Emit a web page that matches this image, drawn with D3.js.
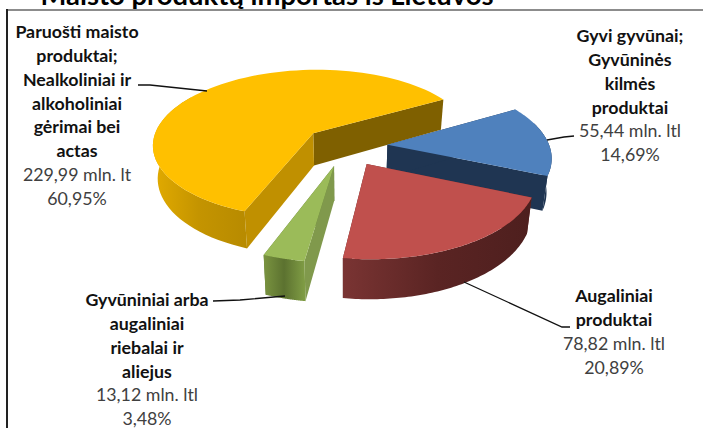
<!DOCTYPE html>
<html><head><meta charset="utf-8">
<script src="https://cdn.jsdelivr.net/npm/d3@7"></script>
<style>html,body{margin:0;padding:0;background:#fff}svg{display:block}</style>
</head><body><div id="c"></div>
<script>
const title = "Maisto produktų importas iš Lietuvos";
const categories = ["Gyvi gyvūnai; Gyvūninės kilmės produktai","Augaliniai produktai","Gyvūniniai arba augaliniai riebalai ir aliejus","Paruošti maisto produktai; Nealkoliniai ir alkoholiniai gėrimai bei actas"];
const values = [55.44,78.82,13.12,229.99];
const valueLabels = ["55,44 mln. ltl","78,82 mln. ltl","13,12 mln. ltl","229,99 mln. lt"];
const percentLabels = ["14,69%","20,89%","3,48%","60,95%"];
const nameLines = [
  ["Gyvi gyvūnai;","Gyvūninės","kilmės","produktai"],
  ["Augaliniai","produktai"],
  ["Gyvūniniai arba","augaliniai","riebalai ir","aliejus"],
  ["Paruošti maisto","produktai;","Nealkoliniai ir","alkoholiniai","gėrimai bei","actas"]
];
const W=703,H=428;
const svg=d3.select("#c").append("svg").attr("width",W).attr("height",H);
const FONT="Lato, 'Open Sans', sans-serif";

// 3D pie projection
const cx=345,cy=146,A=170.5,B=80,persp=0.15,R=0.95,explode=0.25,depth=33,converge=0.975;
const project=(x,z,drop)=>{const s=1/(1-persp*z);return [cx+A*x*s*(drop?converge:1), cy+B*z*s+(drop?depth*s:0)];};
const pie=d3.pie().sort(null).value(d=>d).startAngle(Math.PI/3).endAngle(Math.PI/3+2*Math.PI);
const arcs=pie(values);
const topC=["#4f81bd","#c0504d","#9bbb59","#ffc000"];
const cutEnd=["#1f3552","#5a2423","#5f7a33","#7f6000"];
const cutStart=["#1f3552","#6e2c2b","#80994c","#c09000"];
const wallL=["#1f3552","#7a3433","#7a9440","#e2ab00"];
const wallM=["#1f3552","#5a2423","#5c7230","#c49400"];
const wallR=["#1f3552","#4e1f1e","#7f9c44","#b88b00"];
const defs=svg.append("defs");
const line=d3.line();
const order=[3,0,1,2];
const plot=svg.append("g");
order.forEach(i=>{
  const a=arcs[i],mid=(a.startAngle+a.endAngle)/2;
  const ox=explode*Math.sin(mid),oz=-explode*Math.cos(mid);
  const pt=(t,drop)=>project(ox+R*Math.sin(t),oz-R*Math.cos(t),drop);
  const apex=drop=>project(ox,oz,drop);
  const ts=d3.range(0,81).map(k=>a.startAngle+(a.endAngle-a.startAngle)*k/80);
  const g=plot.append("g");
  // cut faces first, so the rim and the top cover the ones facing away
  const quad=(t)=>[apex(false),pt(t,false),pt(t,true),apex(true)];
  g.append("path").attr("d",line(quad(a.endAngle))+"Z").attr("fill",cutEnd[i]);
  g.append("path").attr("d",line(quad(a.startAngle))+"Z").attr("fill",cutStart[i]);
  // outer wall: the near part of the rim, plus the left silhouette
  const visTs=ts.filter(t=>Math.cos(t)<0.3||(Math.sin(t)<0&&Math.cos(t)<0.55));
  if(visTs.length){
    const vx=visTs.map(t=>pt(t,false)[0]);
    const grad=defs.append("linearGradient").attr("id","w"+i).attr("gradientUnits","userSpaceOnUse")
      .attr("x1",d3.min(vx)).attr("x2",d3.max(vx)).attr("y1",0).attr("y2",0);
    grad.append("stop").attr("offset",0).attr("stop-color",wallL[i]);
    grad.append("stop").attr("offset",0.5).attr("stop-color",wallM[i]);
    grad.append("stop").attr("offset",1).attr("stop-color",wallR[i]);
    const poly=visTs.map(t=>pt(t,false)).concat(visTs.slice().reverse().map(t=>pt(t,true)));
    g.append("path").attr("d",line(poly)+"Z").attr("fill",`url(#w${i})`);
  }
  // top
  g.append("path").attr("d",line([apex(false)].concat(ts.map(t=>pt(t,false))))+"Z").attr("fill",topC[i]);
});

// Title & frame
svg.append("text").attr("x",267).attr("y",5).attr("text-anchor","middle")
  .attr("font-family",FONT).attr("font-weight",700).attr("font-size",27.4).attr("fill","#000").text(title);
svg.append("rect").attr("x",7).attr("y",9).attr("width",W-7).attr("height",2).attr("fill","#8c8c8c");
svg.append("rect").attr("x",6).attr("y",9).attr("width",2).attr("height",H-9).attr("fill","#222");

// Labels
const labelPos=[[630,36],[614,296],[147,300],[77,32]];
const leaders=[
  [[547,140],[564,137],[574,136]],
  [[464,282],[562,327],[570,327]],
  [[285,296],[240,300],[213,301]],
  [[207,91],[150,85],[138,85]]
];
const lh=23.8;
categories.forEach((c,i)=>{
  const lines=nameLines[i].map(t=>({t,b:true})).concat([{t:valueLabels[i],b:false},{t:percentLabels[i],b:false}]);
  lines.forEach((l,k)=>{
    svg.append("text").attr("x",labelPos[i][0]).attr("y",labelPos[i][1]+k*lh).attr("dy","0.35em")
      .attr("text-anchor","middle").attr("font-family",FONT).attr("font-size",17.8)
      .attr("font-weight",l.b?700:400).attr("fill",l.b?"#111":"#404040").text(l.t);
  });
  svg.append("path").attr("d",d3.line()(leaders[i])).attr("fill","none").attr("stroke","#111").attr("stroke-width",1.3);
});
</script></body></html>
